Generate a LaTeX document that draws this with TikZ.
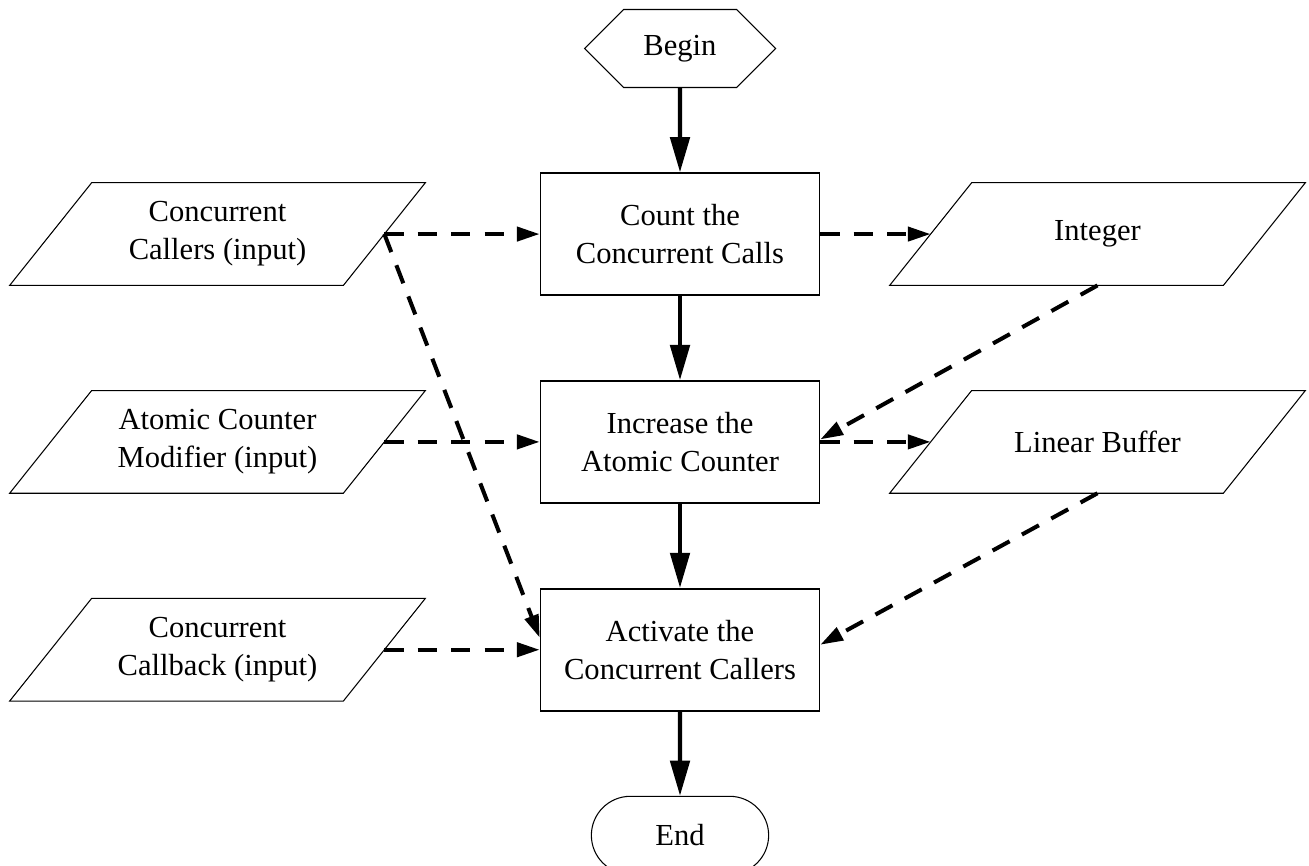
\documentclass[tikz,border=0pt]{standalone}
\usepackage{fontspec}
\setmainfont{Liberation Serif}
\usetikzlibrary{positioning,shapes.misc,shapes.symbols,arrows.meta}

\begin{document}
\begin{tikzpicture}[node distance=1.685cm,font=\fontsize{17.4}{21.6}\selectfont]
	\tikzset{
		stepbox/.style={draw, line width=0.9pt, minimum width=5.58cm, minimum height=2.44cm, align=center},
		data/.style={minimum width=6.66cm, minimum height=2.04cm, inner sep=0pt, align=center},
		slant/.style={line width=0.6pt},
		flow/.style={line width=2.3pt, -{Triangle[length=20pt,width=11pt]}},
		feed/.style={line width=2.3pt, dash pattern=on 11pt off 8pt, -{Triangle[length=13pt,width=8pt]}}
	}
	\useasboundingbox (0,0) rectangle (26.18,-17.32);
	% main column
	\node[draw, line width=0.6pt, signal, signal to=west and east, signal pointer angle=90,
		minimum width=3.82cm, minimum height=1.56cm] (BG) at (13.6,-0.97) {Begin};
	\node[stepbox, below=of BG] (CNT) {Count the\\Concurrent Calls};
	\node[stepbox, below=of CNT] (INC) {Increase the\\Atomic Counter};
	\node[stepbox, below=of INC] (ACT) {Activate the\\Concurrent Callers};
	\node[draw, line width=0.6pt, rounded rectangle, minimum width=3.78cm, minimum height=1.56cm,
		below=of ACT] (ND) {End};
	% inputs and outputs
	\node[data] (CC) at ([xshift=-9.25cm]CNT.center) {Concurrent\\Callers (input)};
	\node[data] (ACM) at ([xshift=-9.25cm]INC.center) {Atomic Counter\\Modifier (input)};
	\node[data] (CB) at ([xshift=-9.25cm]ACT.center) {Concurrent\\Callback (input)};
	\node[data] (INT) at ([xshift=8.35cm]CNT.center) {Integer};
	\node[data] (LB) at ([xshift=8.35cm]INC.center) {Linear Buffer};

	\draw[slant] ([xshift=-0.82cm]CC.south west) -- ([xshift=0.82cm]CC.north west) -- ([xshift=0.82cm]CC.north east) -- ([xshift=-0.82cm]CC.south east) -- cycle;
	\draw[slant] ([xshift=-0.82cm]ACM.south west) -- ([xshift=0.82cm]ACM.north west) -- ([xshift=0.82cm]ACM.north east) -- ([xshift=-0.82cm]ACM.south east) -- cycle;
	\draw[slant] ([xshift=-0.82cm]CB.south west) -- ([xshift=0.82cm]CB.north west) -- ([xshift=0.82cm]CB.north east) -- ([xshift=-0.82cm]CB.south east) -- cycle;
	\draw[slant] ([xshift=-0.82cm]INT.south west) -- ([xshift=0.82cm]INT.north west) -- ([xshift=0.82cm]INT.north east) -- ([xshift=-0.82cm]INT.south east) -- cycle;
	\draw[slant] ([xshift=-0.82cm]LB.south west) -- ([xshift=0.82cm]LB.north west) -- ([xshift=0.82cm]LB.north east) -- ([xshift=-0.82cm]LB.south east) -- cycle;

	\draw[flow] (BG) -- (CNT);
	\draw[flow] (CNT) -- (INC);
	\draw[flow] (INC) -- (ACT);
	\draw[flow] (ACT) -- (ND);

	\draw[feed] (CC.east) -- (CNT.west);
	\draw[feed] (CC.east) -- ([yshift=0.24cm]ACT.west);
	\draw[feed] (ACM.east) -- (INC.west);
	\draw[feed] (CB.east) -- (ACT.west);
	\draw[feed] (CNT.east) -- (INT.west);
	\draw[feed] (INT.south) -- ([yshift=0.05cm]INC.east);
	\draw[feed] (INC.east) -- (LB.west);
	\draw[feed] (LB.south) -- ([yshift=0.1cm]ACT.east);
\end{tikzpicture}
\end{document}
